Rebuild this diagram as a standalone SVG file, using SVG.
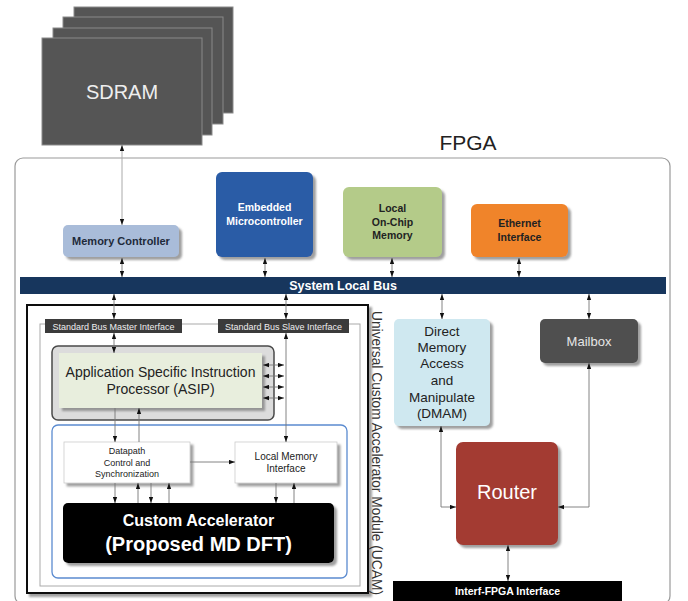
<svg xmlns="http://www.w3.org/2000/svg" width="688" height="601" viewBox="0 0 688 601">
  <style>
    text { font-family: "Liberation Sans", Arial, sans-serif; }
    .b { font-weight: bold; }
    .c { text-anchor: middle; }
    .wire { fill: none; stroke: #777; stroke-width: 0.9; }
    .wire-lt { fill: none; stroke: #aaa; stroke-width: 1; }
    .bi { marker-start: url(#ah); marker-end: url(#ah); }
    .one { marker-end: url(#ah); }
    .layer { fill: #555; stroke: #8a8a8a; stroke-width: 1; }
  </style>
  <defs>
    <marker id="ah" viewBox="0 0 7 5" refX="7" refY="2.5" markerWidth="6" markerHeight="5" markerUnits="userSpaceOnUse" orient="auto-start-reverse">
      <path d="M0,0 L7,2.5 L0,5 z" fill="#111"/>
    </marker>
    <filter id="sh" x="-10%" y="-10%" width="125%" height="130%">
      <feDropShadow dx="3" dy="3" stdDeviation="1.2" flood-color="#777" flood-opacity="0.7"/>
    </filter>
  </defs>

  <rect width="688" height="601" fill="#fff"/>

  <!-- off-chip memory: stacked SDRAM devices -->
  <g id="sdram">
    <rect class="layer" x="74" y="7" width="159" height="106"/>
    <rect class="layer" x="63" y="17" width="160" height="107"/>
    <rect class="layer" x="53" y="28" width="159" height="107"/>
    <rect class="layer" x="42" y="38" width="160" height="107"/>
    <text x="122" y="99" class="c" font-size="20" fill="#eee">SDRAM</text>
  </g>

  <!-- FPGA boundary -->
  <g id="fpga">
    <text x="468" y="150" class="c" font-size="21" fill="#222">FPGA</text>
    <rect x="15" y="158" width="655" height="446" rx="8" fill="none" stroke="#9a9a9a" stroke-width="1.2"/>
  </g>

  <g id="memory-controller">
    <rect x="63" y="225" width="116" height="32" rx="5" fill="#a9bcd9" filter="url(#sh)"/>
    <text x="121" y="245" class="c b" font-size="11" fill="#1e2a3a">Memory Controller</text>
  </g>

  <g id="embedded-microcontroller">
    <rect x="216" y="172" width="97" height="85" rx="6" fill="#2a5ca6" filter="url(#sh)"/>
    <text x="264.5" y="211" class="c b" font-size="10.5" fill="#fff">Embedded</text>
    <text x="264.5" y="225" class="c b" font-size="10.5" fill="#fff">Microcontroller</text>
  </g>

  <g id="local-memory">
    <rect x="343" y="187" width="99" height="70" rx="6" fill="#b4cb89" filter="url(#sh)"/>
    <text x="392.5" y="212" class="c b" font-size="10.5" fill="#222">Local</text>
    <text x="392.5" y="226" class="c b" font-size="10.5" fill="#222">On-Chip</text>
    <text x="392.5" y="239" class="c b" font-size="10.5" fill="#222">Memory</text>
  </g>

  <g id="ethernet">
    <rect x="471" y="204" width="97" height="53" rx="6" fill="#f0842a" filter="url(#sh)"/>
    <text x="519.5" y="227" class="c b" font-size="10.5" fill="#222">Ethernet</text>
    <text x="519.5" y="241" class="c b" font-size="10.5" fill="#222">Interface</text>
  </g>

  <g id="system-bus">
    <rect x="20" y="277" width="646" height="17" fill="#17365d"/>
    <text x="343" y="290" class="c b" font-size="12.5" fill="#fff">System Local Bus</text>
  </g>

  <!-- Universal Custom Accelerator Module -->
  <g id="ucam">
    <rect x="27" y="305" width="341" height="288" fill="#fff" stroke="#111" stroke-width="2" filter="url(#sh)"/>
    <rect x="40" y="324" width="320" height="262" fill="none" stroke="#aaa" stroke-width="1"/>
    <text transform="translate(372,311) rotate(90)" font-size="14" fill="#333" textLength="284" lengthAdjust="spacingAndGlyphs">Universal Custom Accelerator Module (UCAM)</text>
  </g>

  <g id="master-interface">
    <rect x="45" y="319" width="137" height="14" fill="#3b3b3b"/>
    <text x="113.5" y="329.5" class="c" font-size="9" fill="#eee">Standard Bus Master Interface</text>
  </g>

  <g id="slave-interface">
    <rect x="218" y="319" width="131" height="14" fill="#3b3b3b"/>
    <text x="283.5" y="329.5" class="c" font-size="9" fill="#eee">Standard Bus Slave Interface</text>
  </g>

  <g id="asip">
    <rect x="52" y="346" width="222" height="74" rx="6" fill="#dcdcdc" stroke="#4a4a4a" stroke-width="1.5"/>
    <rect x="59" y="353" width="203" height="55" fill="#e8eedd" filter="url(#sh)"/>
    <text x="160.5" y="377" class="c" font-size="14" fill="#222">Application Specific Instruction</text>
    <text x="160.5" y="394" class="c" font-size="14" fill="#222">Processor (ASIP)</text>
  </g>

  <g id="accelerator-region">
    <rect x="52" y="425" width="295" height="153" rx="6" fill="none" stroke="#5b8bd0" stroke-width="1.3"/>
  </g>

  <g id="datapath-control">
    <rect x="64" y="442" width="126" height="41" fill="#fff" stroke="#ccc" stroke-width="0.8" filter="url(#sh)"/>
    <text x="127" y="454" class="c" font-size="9" fill="#222">Datapath</text>
    <text x="127" y="465.5" class="c" font-size="9" fill="#222">Control and</text>
    <text x="127" y="477" class="c" font-size="9" fill="#222">Synchronization</text>
  </g>

  <g id="local-memory-interface">
    <rect x="235" y="442" width="102" height="41" fill="#fff" stroke="#ccc" stroke-width="0.8" filter="url(#sh)"/>
    <text x="286" y="460" class="c" font-size="10" fill="#222">Local Memory</text>
    <text x="286" y="472" class="c" font-size="10" fill="#222">Interface</text>
  </g>

  <g id="custom-accelerator">
    <rect x="63" y="503" width="271" height="60" rx="5" fill="#000" filter="url(#sh)"/>
    <text x="198.5" y="526" class="c b" font-size="16" fill="#fff">Custom Accelerator</text>
    <text x="198.5" y="551" class="c b" font-size="20" fill="#fff">(Proposed MD DFT)</text>
  </g>

  <g id="dmam">
    <rect x="394" y="319" width="96" height="107" rx="5" fill="#cfe8f0" filter="url(#sh)"/>
    <text x="442" y="336" class="c" font-size="13.5" fill="#222">Direct</text>
    <text x="442" y="352" class="c" font-size="13.5" fill="#222">Memory</text>
    <text x="442" y="368" class="c" font-size="13.5" fill="#222">Access</text>
    <text x="442" y="385" class="c" font-size="13.5" fill="#222">and</text>
    <text x="442" y="402" class="c" font-size="13.5" fill="#222">Manipulate</text>
    <text x="442" y="418" class="c" font-size="13.5" fill="#222">(DMAM)</text>
  </g>

  <g id="mailbox">
    <rect x="540" y="319" width="98" height="44" rx="5" fill="#505050" filter="url(#sh)"/>
    <text x="589" y="346" class="c" font-size="13" fill="#e6e6e6">Mailbox</text>
  </g>

  <g id="router">
    <rect x="456" y="442" width="102" height="103" rx="7" fill="#a33b33" filter="url(#sh)"/>
    <text x="507" y="499" class="c" font-size="20" fill="#fff">Router</text>
  </g>

  <g id="inter-fpga-interface">
    <rect x="393" y="581" width="229" height="20" fill="#000"/>
    <text x="507.5" y="595" class="c b" font-size="10.5" fill="#fff">Interf-FPGA Interface</text>
  </g>

  <!-- connectors -->
  <g id="connectors">
    <line class="wire-lt bi" x1="122" y1="145" x2="122" y2="225"/>
    <!-- peripherals to system bus -->
    <line class="wire bi" x1="122" y1="258" x2="122" y2="277"/>
    <line class="wire bi" x1="265" y1="258" x2="265" y2="277"/>
    <line class="wire bi" x1="392" y1="258" x2="392" y2="277"/>
    <line class="wire bi" x1="519" y1="258" x2="519" y2="277"/>
    <!-- system bus to lower blocks -->
    <line class="wire bi" x1="114" y1="294" x2="114" y2="319"/>
    <line class="wire bi" x1="286" y1="294" x2="286" y2="319"/>
    <line class="wire bi" x1="442" y1="294" x2="442" y2="319"/>
    <line class="wire bi" x1="589" y1="294" x2="589" y2="319"/>
    <!-- inside UCAM -->
    <line class="wire bi" x1="114" y1="333" x2="114" y2="353"/>
    <line class="wire bi" x1="286" y1="333" x2="286" y2="442"/>
    <line class="wire bi" x1="263" y1="365" x2="284" y2="365"/>
    <line class="wire bi" x1="263" y1="376" x2="284" y2="376"/>
    <line class="wire bi" x1="263" y1="387" x2="284" y2="387"/>
    <line class="wire bi" x1="263" y1="398" x2="284" y2="398"/>
    <line class="wire one" x1="115" y1="408" x2="115" y2="442"/>
    <line class="wire one" x1="139" y1="442" x2="139" y2="408"/>
    <line class="wire one" x1="190" y1="462" x2="235" y2="462"/>
    <line class="wire one" x1="115" y1="483" x2="115" y2="503"/>
    <line class="wire one" x1="138" y1="503" x2="138" y2="483"/>
    <line class="wire one" x1="151" y1="483" x2="151" y2="503"/>
    <line class="wire one" x1="169" y1="503" x2="169" y2="483"/>
    <line class="wire one" x1="276" y1="483" x2="276" y2="503"/>
    <line class="wire one" x1="294" y1="503" x2="294" y2="483"/>
    <!-- network side -->
    <path class="wire bi" d="M441,426 V507 H456"/>
    <path class="wire bi" d="M589,363 V507 H558"/>
    <line class="wire bi" x1="508" y1="545" x2="508" y2="581"/>
  </g>
</svg>
